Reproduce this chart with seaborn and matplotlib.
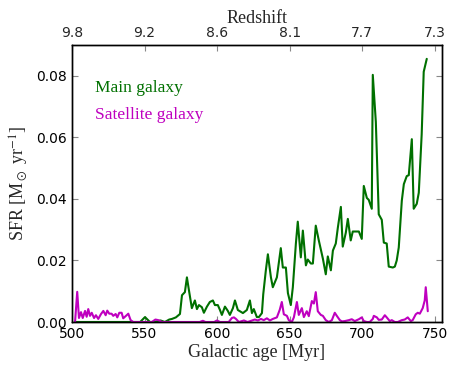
import numpy as np
import pandas as pd
import matplotlib
matplotlib.use("Agg")
import matplotlib.pyplot as plt
import seaborn as sns

# ---- data ----
main_age = [502, 510, 520, 530, 540, 547, 550.3, 553.7, 557, 561, 564, 567, 568.9, 571.6, 574.4,
            575.8, 577.8, 579.2, 580.6, 582.6, 584.7, 586.1, 587.5, 589.5, 590.9, 593.0, 595.0,
            597.1, 598.5, 600.5, 601.9, 603.3, 605.4, 607.4, 608.8, 610.9, 612.3, 614.3, 615.7,
            617.8, 620.5, 622.6, 624.0, 625.3, 627.4, 628.8, 630.9, 631.8, 633.6, 635.0, 637.1,
            638.4, 641.2, 643.9, 645.3, 647.4, 648.8, 650.8, 652.2, 654.3, 655.6, 657.7, 659.1,
            661.2, 662.5, 664.6, 666.0, 668.0, 670.1, 672.9, 674.9, 676.3, 678.4, 679.8, 681.8,
            683.2, 685.3, 686.6, 688.7, 690.1, 692.1, 693.5, 695.6, 697.7, 699.7, 701.1, 703.2,
            704.5, 706.6, 707.3, 709.4, 711.4, 713.5, 714.9, 716.9, 718.3, 721.1, 722.5, 723.8,
            725.2, 727.3, 728.7, 730.7, 732.1, 734.2, 735.5, 737.6, 739.0, 741.0, 742.4, 744.5]
main_sfr = [0, 0, 0, 0, 0, 0, 0.0016, 0, 0, 0.0005, 0, 0.0008, 0.001, 0.0015, 0.0026,
            0.0087, 0.0097, 0.0145, 0.0103, 0.0045, 0.007, 0.0042, 0.0055, 0.0048, 0.003, 0.005, 0.0065,
            0.007, 0.0055, 0.0055, 0.004, 0.0023, 0.005, 0.0036, 0.0023, 0.0045, 0.007, 0.0039, 0.0035,
            0.0029, 0.0039, 0.007, 0.0029, 0.0042, 0.0016, 0.0016, 0.0029, 0.009, 0.0168, 0.022, 0.0145,
            0.0113, 0.0145, 0.024, 0.0177, 0.0177, 0.0094, 0.0055, 0.0113, 0.0255, 0.0326, 0.021, 0.0297,
            0.0184, 0.0203, 0.019, 0.019, 0.0313, 0.0265, 0.0206, 0.0155, 0.0213, 0.0168, 0.0232, 0.0255,
            0.0306, 0.0374, 0.0245, 0.029, 0.0335, 0.0265, 0.0294, 0.0294, 0.0294, 0.027, 0.0442, 0.0403,
            0.0397, 0.0368, 0.0803, 0.065, 0.035, 0.0332, 0.0258, 0.0255, 0.018, 0.0177, 0.018, 0.02,
            0.0242, 0.0394, 0.0448, 0.0474, 0.0477, 0.0594, 0.0368, 0.0384, 0.042, 0.061, 0.0813, 0.0855]

sat_age = [502.1, 503.6, 504.8, 506.2, 507.4, 509.0, 510.1, 511.2, 512.4, 513.6, 515.2, 516.5,
           518.1, 520.0, 521.6, 523.2, 524.3, 525.7, 527.3, 528.4, 530.1, 531.2, 532.6, 534.2,
           535.3, 537.2, 538.8, 540.4, 542.2, 545, 550, 555, 557.5, 559.5, 562, 570, 580, 588,
           590.2, 592, 598, 599.9, 602, 608, 610.2, 611.6, 613.0, 615, 618.5, 621, 626.0, 628.1,
           630.2, 632.2, 634.3, 636.4, 638.4, 641.2, 643.2, 644.6, 646.0, 648.1, 649.4, 651.5,
           652.9, 655.0, 656.3, 658.4, 659.8, 661.8, 663.2, 665.3, 666.7, 668.0, 669.4, 671.5,
           672.9, 674.9, 677.0, 679.1, 681.1, 682.5, 684.6, 686.0, 688.0, 690.8, 692.8, 694.9,
           697.7, 699.7, 701.1, 703.2, 705.2, 707.3, 708.0, 710.1, 711.4, 713.5, 715.6, 716.9,
           719.0, 720.4, 722.5, 724.5, 727.3, 729.3, 731.4, 733.5, 734.8, 736.9, 738.3, 739.7,
           741.7, 743.1, 743.8, 745.2]
sat_sfr = [0, 0.0098, 0.0013, 0.0032, 0.0013, 0.0036, 0.0017, 0.0042, 0.002, 0.003, 0.0013, 0.0022,
           0.001, 0.0026, 0.0036, 0.0022, 0.0037, 0.0027, 0.0027, 0.002, 0.0026, 0.0015, 0.003, 0.003,
           0.0012, 0.002, 0.0027, 0.0006, 0, 0, 0, 0, 0.0008, 0.0006, 0, 0, 0, 0,
           0.0004, 0, 0, 0.0005, 0, 0, 0.0013, 0.0015, 0.001, 0, 0.0005, 0, 0.0008, 0.0005,
           0.001, 0.0006, 0.0012, 0.0005, 0.001, 0.0015, 0.004, 0.0065, 0.0025, 0.002, 0.0006, 0,
           0.0015, 0.0065, 0.0023, 0.0045, 0.0016, 0.0035, 0.0019, 0.0068, 0.006, 0.0097, 0.0035, 0.0023,
           0.002, 0.0006, 0, 0.0006, 0.003, 0.002, 0.0006, 0.0002, 0.0003, 0.0006, 0.0009, 0.0003,
           0.0009, 0.0015, 0.0003, 0, 0, 0.001, 0.002, 0.0015, 0.0007, 0.0008, 0.0022, 0.0015,
           0.0003, 0.0006, 0, 0, 0.0006, 0.0008, 0.0015, 0.0003, 0.0006, 0.0025, 0.003, 0.0027,
           0.0045, 0.007, 0.0113, 0.0035]

age_ticks = [500, 550, 600, 650, 700, 750]
redshift_labels = ["9.8", "9.2", "8.6", "8.1", "7.7", "7.3"]
sfr_ticks = [0.00, 0.02, 0.04, 0.06, 0.08]

# ---- style ----
sns.set_style("ticks")
plt.rcParams.update({
    "font.family": ["DejaVu Sans"],
    "mathtext.fontset": "stix",
    "xtick.direction": "in",
    "ytick.direction": "in",
    "xtick.major.size": 4,
    "ytick.major.size": 4,
    "axes.edgecolor": "black",
    "axes.linewidth": 1.0,
})

df = pd.concat([
    pd.DataFrame({"age": main_age, "sfr": main_sfr, "gal": "Main galaxy"}),
    pd.DataFrame({"age": sat_age, "sfr": sat_sfr, "gal": "Satellite galaxy"}),
])
palette = {"Main galaxy": "#007000", "Satellite galaxy": "#bf00bf"}

fig = plt.figure(figsize=(4.57, 3.73), dpi=100)
ax = fig.add_axes([72 / 457, 1 - 322 / 373, 370 / 457, 277 / 373])

sns.lineplot(data=df, x="age", y="sfr", hue="gal", palette=palette, linewidth=1.5,
             ax=ax, sort=False, estimator=None)

ax.set_xlim(500, 755)
ax.set_ylim(0, 0.09)
ax.set_xticks(age_ticks)
ax.set_yticks(sfr_ticks)
ax.set_yticklabels([f"{v:.2f}" for v in sfr_ticks])
ax.tick_params(labelsize=10, top=False, right=True, colors="black")
ax.tick_params(axis="x", colors="black", color="#888888")
ax.tick_params(axis="y", color="#888888")
serif = ["Liberation Serif", "DejaVu Serif"]
ax.set_xlabel("Galactic age [Myr]", fontsize=13, family=serif, labelpad=2)
ax.set_ylabel(r"SFR [M$_\odot$ yr$^{-1}$]", fontsize=13, family=serif, labelpad=4)

leg = ax.legend(loc="upper left", bbox_to_anchor=(0.02, 0.93), frameon=False,
                handlelength=0, handletextpad=0, labelspacing=0.6,
                prop={"family": serif, "size": 12.5}, labelcolor="linecolor")
for h in leg.legend_handles:
    h.set_visible(False)

ax2 = ax.twiny()
ax2.set_xlim(ax.get_xlim())
ax2.set_xticks(age_ticks)
ax2.set_xticklabels(redshift_labels)
ax2.tick_params(labelsize=10, direction="in", length=4, color="#888888")
ax2.set_xlabel("Redshift", fontsize=13, family=serif, labelpad=2)
for sp in ax.spines.values():
    sp.set_visible(True)

fig.savefig("out.png", dpi=100)
